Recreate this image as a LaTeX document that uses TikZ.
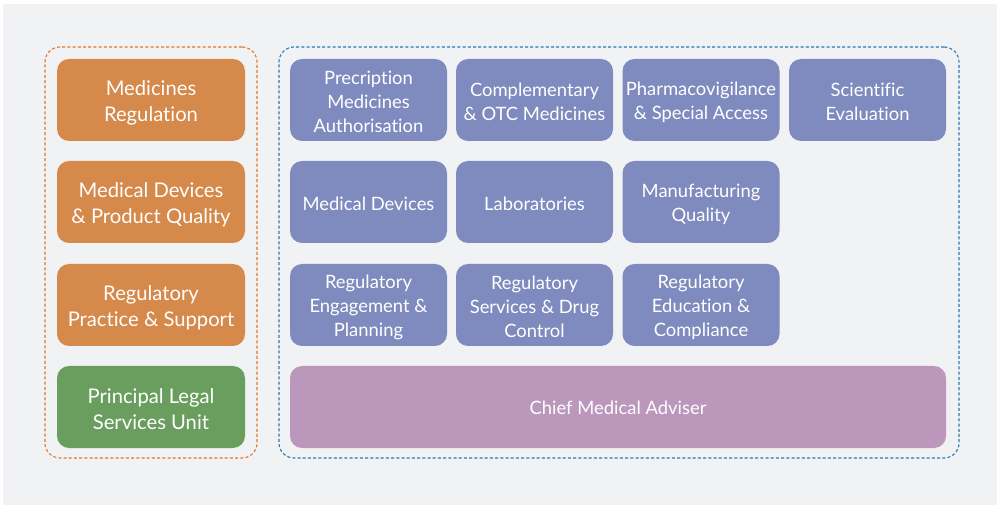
\documentclass[tikz,border=0pt]{standalone}
\usepackage{fontspec}
\setmainfont[Ligatures=NoCommon]{Lato}
\begin{document}
\begin{tikzpicture}[x=1pt,y=-1pt,
  frame/.style={draw,rounded corners=15pt,line width=1.1pt,dash pattern=on 3pt off 2.2pt,minimum width=#1,inner sep=0pt},
  unit/.style={rounded corners=12pt,inner sep=0pt,minimum height=82pt,draw=none},
  smalltext/.style={text=white,align=center,inner sep=0pt,yshift=-2pt,font=\fontsize{18.4}{24}\selectfont},
  leadtext/.style={text=white,align=center,inner sep=0pt,yshift=-2.5pt,font=\fontsize{20.2}{26}\selectfont},
  smallunit/.style={unit,minimum width=157pt,fill=unitblue,label={[smalltext]center:#1}},
  leadunit/.style={unit,minimum width=188pt,label={[leadtext]center:#1}},
]
\definecolor{bggray}{HTML}{F1F2F4}
\definecolor{unitblue}{HTML}{7F8BBE}
\definecolor{unitorange}{HTML}{D5894A}
\definecolor{unitgreen}{HTML}{6A9E5F}
\definecolor{unitpurple}{HTML}{BB98BB}
\definecolor{frameorange}{HTML}{E0772A}
\definecolor{frameblue}{HTML}{2B78AE}

\useasboundingbox (0,0) rectangle (997,505);
\fill[white] (0,0) rectangle (997,505);
\fill[bggray] (3,4) rectangle (997,505);

% group frames
\node[frame=212pt,draw=frameorange,minimum height=411pt] (leftgroup) at (151,252.5) {};
\node[frame=680pt,draw=frameblue,minimum height=411pt] (rightgroup) at (619,252.5) {};

% divisions
\node[leadunit={Medicines\\Regulation},fill=unitorange] (medreg) at (151,100) {};
\node[leadunit={Medical Devices\\\& Product Quality},fill=unitorange] (devqual) at (151,202) {};
\node[leadunit={Regulatory\\Practice \& Support},fill=unitorange] (practice) at (151,305) {};
\node[leadunit={Principal Legal\\Services Unit},fill=unitgreen] (legal) at (151,407) {};

% branches
\node[smallunit={Precription\\Medicines\\Authorisation}] (presc) at (368.5,100) {};
\node[smallunit={Complementary\\\& OTC Medicines}] (otc) at (534.5,100) {};
\node[smallunit={Pharmacovigilance\\\& Special Access}] (pharma) at (701,100) {};
\node[smallunit={Scientific\\Evaluation}] (scieval) at (867.5,100) {};

\node[smallunit={Medical Devices}] (devices) at (368.5,202) {};
\node[smallunit={Laboratories}] (labs) at (534.5,202) {};
\node[smallunit={Manufacturing\\Quality}] (manuf) at (701,202) {};

\node[smallunit={Regulatory\\Engagement \&\\Planning}] (engage) at (368.5,305) {};
\node[smallunit={Regulatory\\Services \& Drug\\Control}] (drugctl) at (534.5,305) {};
\node[smallunit={Regulatory\\Education \&\\Compliance}] (educ) at (701,305) {};

\node[unit,minimum width=656pt,fill=unitpurple,label={[smalltext,yshift=1pt]center:Chief Medical Adviser}] (cma) at (618,407) {};
\end{tikzpicture}
\end{document}
